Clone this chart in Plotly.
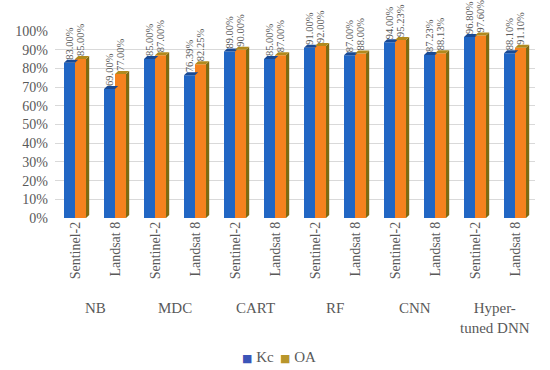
import plotly.graph_objects as go

groups = ["NB", "MDC", "CART", "RF", "CNN", "Hyper-<br>tuned DNN"]
sensors = ["Sentinel-2", "Landsat 8"]
kc = [83.00, 69.00, 85.00, 76.39, 89.00, 85.00, 91.00, 87.00, 94.00, 87.23, 96.80, 88.10]
oa = [85.00, 77.00, 87.00, 82.25, 90.00, 87.00, 92.00, 88.00, 95.23, 88.13, 97.60, 91.10]
y_ticks = [0, 10, 20, 30, 40, 50, 60, 70, 80, 90, 100]
series_names = ["Kc", "OA"]

labels = [s for g in groups for s in sensors]
xs = list(range(len(labels)))

FONT = "Liberation Serif"
GRAY = "#595959"
BLUE = "#2166C4"
BLUE_TOP = "#1A4A94"
ORANGE = "#F5821F"
OLIVE_TOP = "#B08A1E"
OLIVE_SIDE = "#7E6A12"
LEG_COLORS = ["#3B55B8", "#B8962B"]
W = 0.275
DX = 0.08
DY = 1.6

fig = go.Figure()
fig.add_trace(go.Bar(
    x=xs, y=kc, width=W, offset=-W, marker=dict(color=BLUE, line=dict(width=0)),
    text=[f"{v:.2f}%" for v in kc], textposition="outside", textangle=-90,
    textfont=dict(family=FONT, size=10.5, color=GRAY), cliponaxis=False,
    constraintext="none", showlegend=False, name=series_names[0]))
fig.add_trace(go.Bar(
    x=xs, y=oa, width=W, offset=0, marker=dict(color=ORANGE, line=dict(width=0)),
    text=[f"{v:.2f}%" for v in oa], textposition="outside", textangle=-90,
    textfont=dict(family=FONT, size=10.5, color=GRAY), cliponaxis=False,
    constraintext="none", showlegend=False, name=series_names[1]))

shapes = []
for i, (a, b) in enumerate(zip(kc, oa)):
    x0, x1 = i - W, i
    shapes.append(dict(type="path", xref="x", yref="y", layer="above", line=dict(width=0),
                       fillcolor=BLUE_TOP,
                       path=f"M {x0} {a} L {x1} {a} L {x1+DX} {a+DY} L {x0+DX} {a+DY} Z"))
    x0, x1 = i, i + W
    shapes.append(dict(type="path", xref="x", yref="y", layer="above", line=dict(width=0),
                       fillcolor=OLIVE_SIDE,
                       path=f"M {x1} 0 L {x1+DX} {DY} L {x1+DX} {b+DY} L {x1} {b} Z"))
    shapes.append(dict(type="path", xref="x", yref="y", layer="above", line=dict(width=0),
                       fillcolor=OLIVE_TOP,
                       path=f"M {x0} {b} L {x1} {b} L {x1+DX} {b+DY} L {x0+DX} {b+DY} Z"))

annotations = []
for gi, g in enumerate(groups):
    annotations.append(dict(x=2 * gi + 0.5, y=0, xref="x", yref="paper", text=g,
                            showarrow=False, yanchor="top", yshift=-80,
                            font=dict(family=FONT, size=15, color=GRAY)))

leg_x = [0.385, 0.465]
for name, col, lx in zip(series_names, LEG_COLORS, leg_x):
    annotations.append(dict(
        x=lx, y=-0.745, xref="paper", yref="paper", xanchor="left", yanchor="middle",
        showarrow=False,
        text=f"<span style='color:{col};font-family:DejaVu Sans;font-size:11px'>■</span> {name}",
        font=dict(family=FONT, size=15, color=GRAY)))

fig.update_layout(
    width=550, height=370,
    margin=dict(l=55, r=15, t=31, b=152),
    paper_bgcolor="white", plot_bgcolor="white",
    barmode="overlay", showlegend=False,
    shapes=shapes, annotations=annotations,
    font=dict(family=FONT, color=GRAY),
    xaxis=dict(range=[-0.5, 11.5], tickmode="array", tickvals=xs, ticktext=labels,
               tickangle=-90, showgrid=False, zeroline=False, showline=False,
               ticks="", tickfont=dict(family=FONT, size=14, color=GRAY)),
    yaxis=dict(range=[0, 100], tickvals=y_ticks, ticktext=[f"{t}%" for t in y_ticks],
               showgrid=True, gridcolor="#D9D9D9", gridwidth=1, zeroline=False,
               showline=False, ticks="", ticklabelstandoff=6,
               tickfont=dict(family=FONT, size=14, color=GRAY)),
)

fig.write_html("out.html", config={"displayModeBar": False},
               post_script="document.body.style.margin='0';")
